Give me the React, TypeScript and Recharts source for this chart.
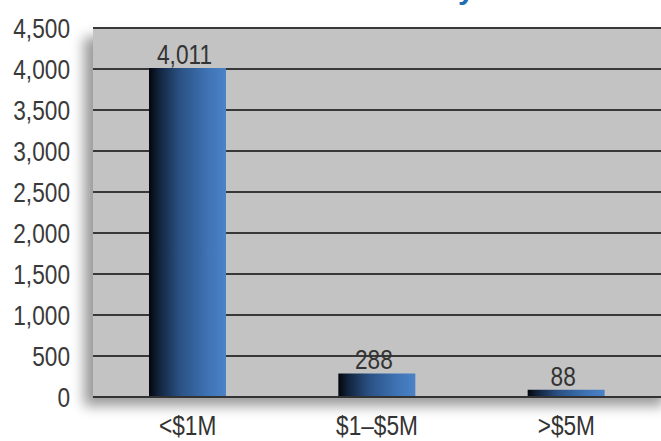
import React from 'react';
import { BarChart, Bar, XAxis, YAxis, CartesianGrid, LabelList } from 'recharts';

const categories = ['<$1M', '$1–$5M', '>$5M'];
const counts = [4011, 288, 88];
const yTicks = [0, 500, 1000, 1500, 2000, 2500, 3000, 3500, 4000, 4500];
const edgeTicks = [0, 1, 2, 3];

const data = categories.map((name, i) => ({ name, value: counts[i] }));

const FONT = '"Liberation Sans", Arial, sans-serif';
const FS = 27;
const SX = 0.84;
const fmt = (v: number) => v.toLocaleString('en-US');

const YTick = (props: any) => {
  const { x, y, payload } = props;
  return (
    <text
      transform={`translate(${x},${y}) scale(${SX},1)`}
      textAnchor="end"
      dy="0.36em"
      fill="#3a3a3a"
      fontSize={FS}
      fontFamily={FONT}
    >
      {fmt(payload.value)}
    </text>
  );
};

const XTick = (props: any) => {
  const { x, y, payload } = props;
  return (
    <text
      transform={`translate(${x},${y}) scale(${SX},1)`}
      textAnchor="middle"
      dy="0.71em"
      fill="#333"
      fontSize={FS}
      fontFamily={FONT}
    >
      {payload.value}
    </text>
  );
};

const BarLabel = (props: any) => {
  const { x, y, width, value } = props;
  const cx = Number(x) + Number(width) / 2 - 3;
  const cy = Number(y) - 4;
  return (
    <text
      transform={`translate(${cx},${cy}) scale(${SX},1)`}
      textAnchor="middle"
      fill="#333"
      fontSize={FS}
      fontFamily={FONT}
    >
      {fmt(Number(value))}
    </text>
  );
};

export default function App() {
  return (
    <div style={{ position: 'absolute', left: 0, top: 0, width: 661, height: 441, background: '#fff', overflow: 'hidden' }}>
      <div
        style={{
          position: 'absolute',
          left: 93,
          top: 28,
          width: 580,
          height: 369,
          background: '#c3c3c3',
          boxShadow: '-9px 9px 12px rgba(0,0,0,0.4)',
        }}
      />
      <span
        style={{
          position: 'absolute',
          left: 458,
          top: -26,
          fontFamily: FONT,
          fontWeight: 700,
          fontSize: 30,
          color: '#1f6db3',
          lineHeight: '30px',
        }}
      >
        y
      </span>
      <div style={{ position: 'absolute', left: 0, top: 0 }}>
        <BarChart
          width={661}
          height={441}
          data={data}
          margin={{ top: 28, right: 0, left: 0, bottom: 0 }}
          barCategoryGap={0}
        >
          <defs>
            <linearGradient id="barGrad" x1="0" y1="0" x2="1" y2="0">
              <stop offset="0%" stopColor="#03060b" />
              <stop offset="12%" stopColor="#11223a" />
              <stop offset="40%" stopColor="#2a5184" />
              <stop offset="75%" stopColor="#3e72b3" />
              <stop offset="100%" stopColor="#4b83c8" />
            </linearGradient>
          </defs>
          <CartesianGrid vertical={false} stroke="#383838" strokeWidth={2} />
          <XAxis
            dataKey="name"
            height={44}
            tickLine={false}
            tickSize={0}
            tickMargin={19}
            axisLine={{ stroke: '#333', strokeWidth: 2 }}
            tick={<XTick />}
          />
          <XAxis
            xAxisId="edges"
            type="number"
            domain={[0, 3]}
            ticks={edgeTicks}
            mirror
            height={0}
            axisLine={false}
            tickSize={10}
            tick={false}
            tickLine={{ stroke: '#333', strokeWidth: 2 }}
          />
          <YAxis
            width={93}
            domain={[0, 4500]}
            ticks={yTicks}
            axisLine={false}
            tickLine={false}
            tickSize={0}
            tickMargin={23}
            interval={0}
            tick={<YTick />}
          />
          <Bar dataKey="value" fill="url(#barGrad)" barSize={77} isAnimationActive={false}>
            <LabelList dataKey="value" content={<BarLabel />} />
          </Bar>
        </BarChart>
      </div>
    </div>
  );
}
